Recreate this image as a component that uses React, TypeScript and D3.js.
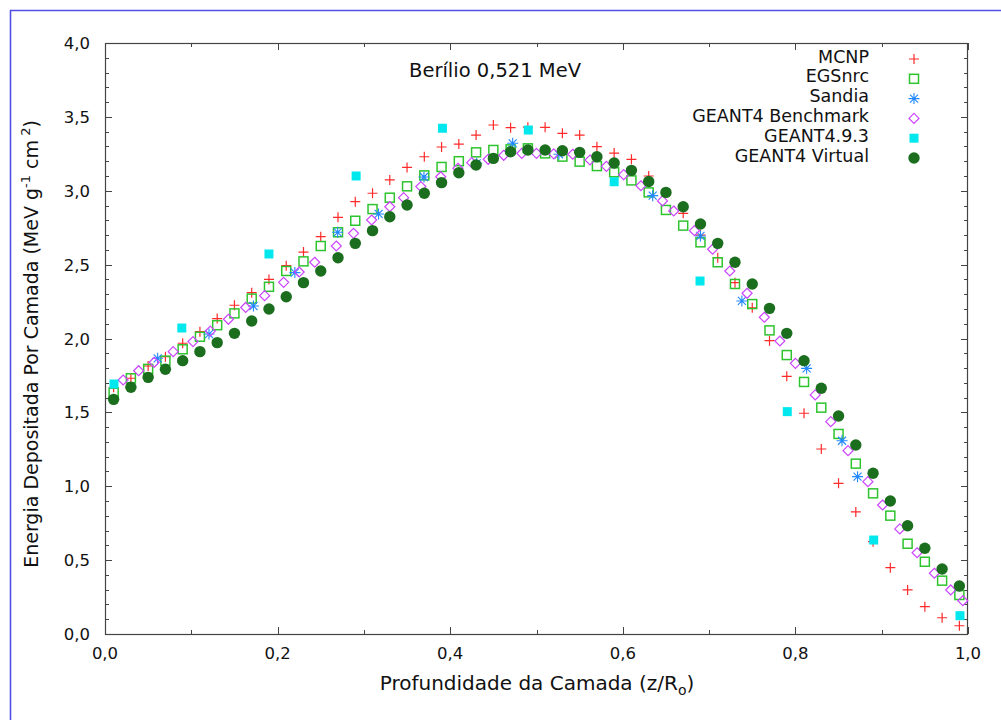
import React from "react";
import * as d3 from "d3";

const title = "Berílio 0,521 MeV";
const xTicks = [0, 0.2, 0.4, 0.6, 0.8, 1.0];
const yTicks = [0, 0.5, 1.0, 1.5, 2.0, 2.5, 3.0, 3.5, 4.0];

const gridX = [0.01,0.03,0.05,0.07,0.09,0.11,0.13,0.15,0.17,0.19,0.21,0.23,0.25,0.27,0.29,0.31,0.33,0.35,0.37,0.39,0.41,0.43,0.45,0.47,0.49,0.51,0.53,0.55,0.57,0.59,0.61,0.63,0.65,0.67,0.69,0.71,0.73,0.75,0.77,0.79,0.81,0.83,0.85,0.87,0.89,0.91,0.93,0.95,0.97,0.99];

const mcnpY = [1.67,1.731,1.814,1.877,1.968,2.046,2.135,2.225,2.31,2.40,2.493,2.585,2.689,2.820,2.926,2.983,3.073,3.158,3.230,3.296,3.316,3.377,3.445,3.427,3.43,3.429,3.389,3.377,3.298,3.255,3.213,3.10,2.985,2.847,2.70,2.547,2.378,2.208,1.985,1.744,1.494,1.252,1.020,0.826,0.625,0.449,0.298,0.185,0.110,0.056];

const egsY = [1.633,1.731,1.794,1.850,1.927,2.012,2.09,2.17,2.27,2.35,2.457,2.522,2.626,2.719,2.797,2.876,2.953,3.030,3.104,3.161,3.200,3.260,3.276,3.28,3.287,3.253,3.231,3.197,3.167,3.125,3.070,2.989,2.870,2.764,2.651,2.516,2.369,2.233,2.055,1.888,1.706,1.532,1.354,1.153,0.952,0.801,0.611,0.489,0.361,0.264];

const sandiaX = [0.061,0.1205,0.172,0.220,0.2696,0.317,0.3696,0.4307,0.4724,0.526,0.6346,0.690,0.738,0.813,0.854,0.872];
const sandiaY = [1.866,2.030,2.22,2.446,2.719,2.843,3.093,3.186,3.321,3.247,2.967,2.694,2.254,1.798,1.308,1.065];

const benchX = [0.021,0.039,0.057,0.079,0.102,0.122,0.143,0.163,0.185,0.207,0.225,0.243,0.268,0.288,0.309,0.330,0.346,0.366,0.389,0.409,0.425,0.444,0.462,0.483,0.500,0.520,0.542,0.562,0.581,0.601,0.621,0.646,0.659,0.683,0.704,0.724,0.744,0.764,0.782,0.800,0.823,0.841,0.861,0.884,0.901,0.921,0.941,0.961,0.980,0.994];
const benchY = [1.719,1.782,1.839,1.911,1.979,2.05,2.13,2.21,2.29,2.38,2.45,2.516,2.626,2.712,2.802,2.892,2.953,3.028,3.095,3.152,3.19,3.213,3.24,3.253,3.253,3.25,3.247,3.208,3.165,3.109,3.034,2.931,2.863,2.730,2.604,2.457,2.306,2.144,1.983,1.832,1.618,1.437,1.241,1.031,0.873,0.711,0.550,0.411,0.298,0.225];

const g493X = [0.0104,0.089,0.19,0.291,0.391,0.4905,0.590,0.6895,0.7906,0.8907,0.9907];
const g493Y = [1.692,2.071,2.572,3.100,3.423,3.411,3.061,2.389,1.505,0.636,0.124];

const virtualY = [1.588,1.670,1.737,1.792,1.850,1.911,1.972,2.035,2.118,2.20,2.283,2.378,2.457,2.547,2.644,2.730,2.824,2.904,2.983,3.055,3.122,3.174,3.219,3.264,3.276,3.276,3.271,3.260,3.230,3.188,3.138,3.063,2.989,2.892,2.775,2.644,2.516,2.369,2.204,2.035,1.850,1.663,1.475,1.279,1.088,0.900,0.733,0.580,0.440,0.325];

const seriesNames = ["MCNP", "EGSnrc", "Sandia", "GEANT4 Benchmark", "GEANT4.9.3", "GEANT4 Virtual"];

const FONT = "'DejaVu Sans', Verdana, sans-serif";
const L = 105, R = 968, T = 43, B = 634;

const fmt = (v: number) => v.toFixed(1).replace(".", ",");

function Marker({ kind, x, y }: { kind: number; x: number; y: number }) {
  const t = `translate(${x},${y})`;
  switch (kind) {
    case 0:
      return <path transform={t} d="M-5,0H5M0,-5V5" stroke="#ff2a2a" strokeWidth={1.2} fill="none" />;
    case 1:
      return <rect transform={t} x={-4.5} y={-4.5} width={9} height={9} stroke="#2ec42e" strokeWidth={1.5} fill="none" />;
    case 2:
      return <path transform={t} d="M-5.5,0H5.5M0,-5.5V5.5M-4,-4L4,4M-4,4L4,-4" stroke="#2288ff" strokeWidth={1.1} fill="none" />;
    case 3:
      return <path transform={t} d="M0,-5L5,0L0,5L-5,0Z" stroke="#cc44ff" strokeWidth={1.2} fill="none" />;
    case 4:
      return <rect transform={t} x={-4.5} y={-4.5} width={9} height={9} fill="#00e8ee" />;
    default:
      return <circle cx={x} cy={y} r={5.7} fill="#1a6e1d" />;
  }
}

export default function App() {
  const x = d3.scaleLinear().domain([0, 1]).range([L, R]);
  const y = d3.scaleLinear().domain([0, 4]).range([B, T]);
  const xMinor = d3.range(0, 11).map((i) => i / 10);
  const yMinor = d3.range(0, 41).map((i) => i / 10);

  const series: { kind: number; xs: number[]; ys: number[] }[] = [
    { kind: 0, xs: gridX, ys: mcnpY },
    { kind: 1, xs: gridX, ys: egsY },
    { kind: 2, xs: sandiaX, ys: sandiaY },
    { kind: 3, xs: benchX, ys: benchY },
    { kind: 4, xs: g493X, ys: g493Y },
    { kind: 5, xs: gridX, ys: virtualY },
  ];

  const axisColor = "#444";

  return (
    <svg width={1001} height={720} style={{ position: "absolute", left: 0, top: 0, background: "#fff" }} fontFamily={FONT}>
      <rect x={0} y={0} width={1001} height={720} fill="#fff" />
      <path d="M10.5,720V10.5H1001" stroke="#5050e6" strokeWidth={1.6} fill="none" />

      {yMinor.map((v, i) => {
        const major = i % 5 === 0;
        const len = major ? 7 : 4;
        const yy = Math.round(y(v)) + 0.5;
        return (
          <g key={"yt" + i}>
            <line x1={L} x2={L + len} y1={yy} y2={yy} stroke={axisColor} />
            <line x1={R - len} x2={R} y1={yy} y2={yy} stroke={axisColor} />
          </g>
        );
      })}
      {xMinor.map((v, i) => {
        const major = i % 2 === 0;
        const len = major ? 7 : 4;
        const xx = Math.round(x(v)) + 0.5;
        return (
          <g key={"xt" + i}>
            <line x1={xx} x2={xx} y1={B} y2={B - len} stroke={axisColor} />
            <line x1={xx} x2={xx} y1={T} y2={T + len} stroke={axisColor} />
          </g>
        );
      })}
      <rect x={L + 0.5} y={T + 0.5} width={R - L - 1} height={B - T} fill="none" stroke={axisColor} strokeWidth={1.2} />

      {yTicks.map((v) => (
        <text key={"yl" + v} x={90} y={y(v) + 6} textAnchor="end" fontSize={16.5} fill="#111">
          {fmt(v)}
        </text>
      ))}
      {xTicks.map((v) => (
        <text key={"xl" + v} x={x(v)} y={659} textAnchor="middle" fontSize={16.5} fill="#111">
          {fmt(v)}
        </text>
      ))}

      <text x={537} y={690} textAnchor="middle" fontSize={20} fill="#111">
        Profundidade da Camada (z/R<tspan fontSize={14} dy={5}>o</tspan><tspan dy={-5}>)</tspan>
      </text>
      <text transform={`translate(38,344) rotate(-90)`} textAnchor="middle" fontSize={19} fill="#111">
        Energia Depositada Por Camada (MeV g<tspan fontSize={13} dy={-8}>-1</tspan><tspan dy={8}> cm</tspan><tspan fontSize={13} dy={-8}> 2</tspan><tspan dy={8}>)</tspan>
      </text>
      <text x={495} y={77} textAnchor="middle" fontSize={19.5} fill="#111">{title}</text>

      {seriesNames.map((n, i) => (
        <g key={"lg" + i}>
          <text x={869} y={59 + i * 19.8 + 3.5} textAnchor="end" fontSize={17.5} fill="#111">{n}</text>
          <Marker kind={i} x={914} y={59 + i * 19.8} />
        </g>
      ))}

      {series.map((s) => (
        <g key={"s" + s.kind}>
          {s.xs.map((xv, j) => (
            <Marker key={j} kind={s.kind} x={x(xv)} y={y(s.ys[j])} />
          ))}
        </g>
      ))}
    </svg>
  );
}
